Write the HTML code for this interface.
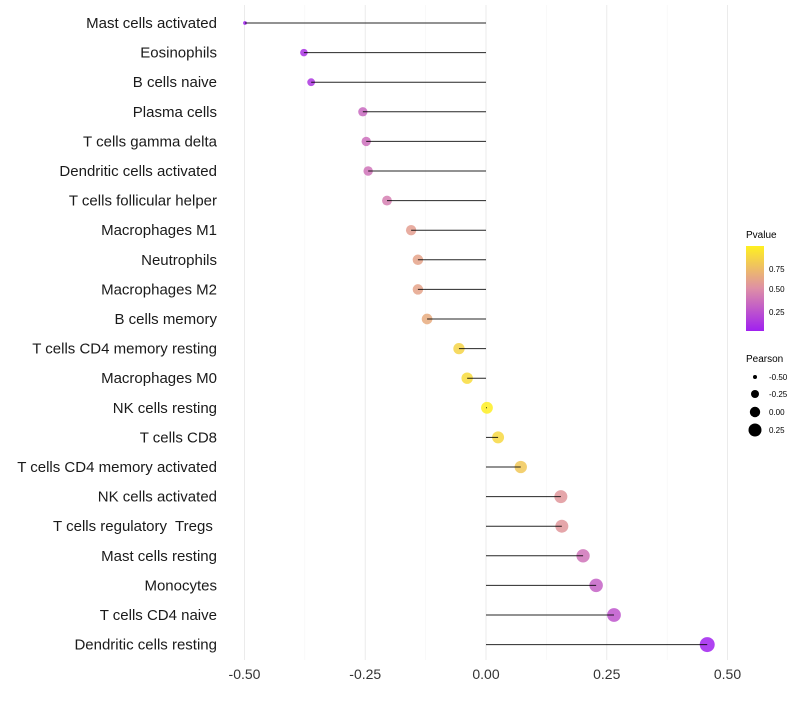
<!DOCTYPE html>
<html><head><meta charset="utf-8"><style>
body{margin:0;background:#fff;font-family:"Liberation Sans",sans-serif}
text{white-space:pre}
</style></head><body>
<svg id="chart" width="800" height="700" xmlns="http://www.w3.org/2000/svg" font-family="Liberation Sans, sans-serif">
<defs><linearGradient id="pg" x1="0" y1="1" x2="0" y2="0">
<stop offset="0" stop-color="#A020F0"/><stop offset="0.5" stop-color="#DE8FA6"/><stop offset="1" stop-color="#FFF020"/></linearGradient></defs>
<g id="grid"></g><g id="points"></g><g id="marks"></g><g id="labels"></g><g id="ticks"></g>
<g>
<text x="746" y="238" font-size="10">Pvalue</text>
<rect x="746" y="246" width="18" height="85" fill="url(#pg)"/>
<text x="769" y="272" font-size="8">0.75</text>
<text x="769" y="292" font-size="8">0.50</text>
<text x="769" y="315" font-size="8">0.25</text>
</g>
<g>
<text x="746" y="362" font-size="10">Pearson</text>
<circle cx="755" cy="377" r="2"/><text x="769" y="380" font-size="8">-0.50</text>
<circle cx="755" cy="394" r="4"/><text x="769" y="397" font-size="8">-0.25</text>
<circle cx="755" cy="412" r="5.2"/><text x="769" y="415" font-size="8">0.00</text>
<circle cx="755" cy="430" r="6.5"/><text x="769" y="433" font-size="8">0.25</text>
</g>
</svg>
<script>
const cells=["Mast cells activated","Eosinophils","B cells naive","Plasma cells","T cells gamma delta","Dendritic cells activated","T cells follicular helper","Macrophages M1","Neutrophils","Macrophages M2","B cells memory","T cells CD4 memory resting","Macrophages M0","NK cells resting","T cells CD8","T cells CD4 memory activated","NK cells activated","T cells regulatory  Tregs ","Mast cells resting","Monocytes","T cells CD4 naive","Dendritic cells resting"];
const pearson=[-0.499,-0.377,-0.362,-0.255,-0.248,-0.244,-0.205,-0.155,-0.141,-0.141,-0.122,-0.056,-0.039,0.002,0.025,0.072,0.155,0.157,0.201,0.228,0.265,0.458];
const pvalue=[0.03,0.12,0.14,0.35,0.38,0.40,0.45,0.60,0.62,0.62,0.66,0.86,0.90,0.99,0.88,0.80,0.56,0.56,0.40,0.32,0.27,0.05];
const tickVals=[-0.5,-0.25,0,0.25,0.5];
const tickLabels=["-0.50","-0.25","0.00","0.25","0.50"];
const NS="http://www.w3.org/2000/svg";
const xs=v=>486+v*483;
const ys=i=>23+i*29.6;
const rs=v=>1.7+5.8*Math.sqrt(Math.max(0,(v+0.5)/0.96));
function lerp(a,b,t){return a.map((c,k)=>Math.round(c+(b[k]-c)*t));}
function col(p){const s=[[160,32,240],[222,143,166],[255,240,32]];const t=Math.max(0,Math.min(1,(p-0.04)/0.96));
 const c=t<0.5?lerp(s[0],s[1],t*2):lerp(s[1],s[2],(t-0.5)*2);return `rgb(${c})`;}
function mk(tag,at,parent){const e=document.createElementNS(NS,tag);for(const k in at)e.setAttribute(k,at[k]);document.getElementById(parent).appendChild(e);return e;}
for(let v=-0.5;v<=0.5001;v+=0.125){const g=mk('line',{x1:xs(v),x2:xs(v),y1:5,y2:660,stroke:Math.abs((v*4)%1)<0.01?'#EBEBEB':'#F5F5F5','stroke-width':Math.abs((v*4)%1)<0.01?1:0.6},'grid');

}
tickVals.forEach((v,i)=>{const t=mk('text',{x:xs(v),y:679,'font-size':14,'text-anchor':'middle',fill:'#333'},'ticks');t.textContent=tickLabels[i];

});
cells.forEach((c,i)=>{const y=ys(i);
const l=mk('text',{x:217,y:y+5,'font-size':15,'text-anchor':'end',fill:'#1a1a1a'},'labels');l.textContent=c;


const p=mk('circle',{cx:xs(pearson[i]),cy:y,r:rs(pearson[i]),fill:col(pvalue[i]),'fill-opacity':0.85},'points');


const s=mk('line',{x1:xs(0),x2:xs(pearson[i]),y1:y,y2:y,stroke:'#000','stroke-width':1,'stroke-opacity':0.85},'marks');

});
</script>
</body></html>
